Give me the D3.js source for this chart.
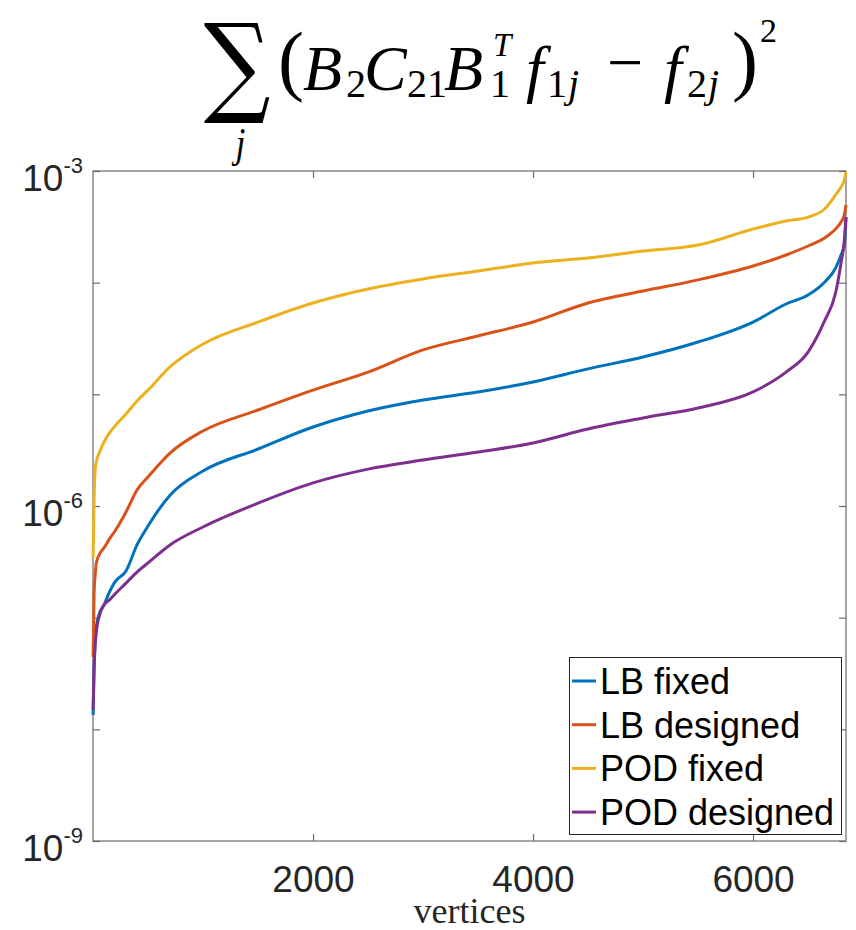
<!DOCTYPE html>
<html><head><meta charset="utf-8">
<script src="https://cdn.jsdelivr.net/npm/d3@7"></script>
<style>body{margin:0;background:#fff;} svg{display:block}</style>
</head><body><svg id="chart" width="856" height="930"></svg>
<script>
// ---- data ----
const vertices = [1,10,20,30,60,100,150,200,300,400,500,700,1000,1500,2000,2500,3000,3500,4000,4500,5000,5500,6000,6300,6500,6650,6750,6800,6830,6845];
const lbFixed = [1.34e-8,3.61e-8,6.31e-8,8.25e-8,1.10e-7,1.30e-7,1.70e-7,2.09e-7,2.62e-7,4.48e-7,6.62e-7,1.25e-6,2.06e-6,3.24e-6,5.10e-6,7.09e-6,8.90e-6,1.05e-5,1.29e-5,1.69e-5,2.16e-5,2.94e-5,4.44e-5,6.44e-5,7.76e-5,1.01e-4,1.35e-4,1.77e-4,2.17e-4,3.87e-4];
const lbDesigned = [4.44e-8,1.66e-7,2.41e-7,3.09e-7,3.72e-7,4.21e-7,5.07e-7,5.97e-7,8.84e-7,1.39e-6,1.82e-6,2.98e-6,4.70e-6,7.24e-6,1.09e-5,1.58e-5,2.50e-5,3.33e-5,4.44e-5,6.58e-5,8.42e-5,1.06e-4,1.41e-4,1.77e-4,2.13e-4,2.51e-4,3.02e-4,3.49e-4,4.04e-4,4.96e-4];
const podFixed = [3.42e-7,1.13e-6,2.10e-6,2.48e-6,3.04e-6,3.74e-6,4.51e-6,5.21e-6,6.67e-6,8.71e-6,1.09e-5,1.76e-5,2.82e-5,4.44e-5,6.58e-5,8.78e-5,1.08e-4,1.27e-4,1.50e-4,1.66e-4,1.92e-4,2.17e-4,3.02e-4,3.57e-4,3.87e-4,4.57e-4,6.10e-4,7.19e-4,8.31e-4,9.79e-4];
const podDesigned = [1.49e-8,3.61e-8,5.69e-8,7.44e-8,1.06e-7,1.30e-7,1.44e-7,1.63e-7,2.04e-7,2.56e-7,3.09e-7,4.48e-7,6.49e-7,1.06e-6,1.61e-6,2.14e-6,2.58e-6,3.04e-6,3.67e-6,4.89e-6,6.14e-6,7.55e-6,1.05e-5,1.58e-5,2.39e-5,4.54e-5,8.08e-5,1.50e-4,2.41e-4,3.87e-4];
const seriesNames = ["LB fixed","LB designed","POD fixed","POD designed"];
const seriesColors = ["#0072BD","#D95319","#EDB120","#7E2F8E"];
const xTicks = [2000,4000,6000];
const yTicks = [1e-9,1e-8,1e-7,1e-6,1e-5,1e-4,1e-3];
const yLabelTicks = [1e-9,1e-6,1e-3];
const yLabelExps = ["-9","-6","-3"];
const xMax = 6845;

// ---- drawing ----
const svg = d3.select("#chart");
const L = 93, R = 846, TOP = 171, B = 841;
const x = d3.scaleLinear().domain([0, xMax]).range([L, R]);
const y = d3.scaleLog().domain([1e-9, 1e-3]).range([B, TOP]);
const axisCol = "#6a6a6a", textCol = "#262626";

// axes box
svg.append("rect").attr("x", L).attr("y", TOP).attr("width", R - L).attr("height", B - TOP)
  .attr("fill", "none").attr("stroke", axisCol).attr("stroke-width", 1.2);

function styleAxis(g){
  g.select(".domain").remove();
  g.selectAll(".tick line").attr("stroke", axisCol).attr("stroke-width", 1.2);
}
svg.append("g").attr("transform", `translate(0,${B})`)
  .call(d3.axisBottom(x).tickValues(xTicks).tickSize(-7).tickPadding(25).tickFormat(d3.format("d")))
  .call(styleAxis)
  .call(g => g.selectAll(".tick text").attr("font-family", "'Liberation Sans', Arial, sans-serif")
     .attr("font-size", 37).attr("fill", textCol));
svg.append("g").attr("transform", `translate(0,${TOP})`)
  .call(d3.axisTop(x).tickValues(xTicks).tickSize(-7).tickFormat(""))
  .call(styleAxis);
svg.append("g").attr("transform", `translate(${L},0)`)
  .call(d3.axisLeft(y).tickValues(yTicks).tickSize(-7).tickFormat(""))
  .call(styleAxis);
svg.append("g").attr("transform", `translate(${R},0)`)
  .call(d3.axisRight(y).tickValues(yTicks).tickSize(-7).tickFormat(""))
  .call(styleAxis);

// y tick labels 10^k
yLabelTicks.forEach((v, i) => {
  const t = svg.append("text").attr("x", 83).attr("y", y(v) + 20)
    .attr("text-anchor", "end").attr("font-family", "'Liberation Sans', Arial, sans-serif")
    .attr("fill", textCol);
  t.append("tspan").attr("font-size", 37).text("10");
  t.append("tspan").attr("font-size", 22).attr("dy", -18).text(yLabelExps[i]);
});

// x label
svg.append("text").attr("x", (L + R) / 2).attr("y", 923).attr("text-anchor", "middle")
  .attr("font-family", "'Liberation Serif', 'DejaVu Serif', serif").attr("font-size", 36)
  .attr("fill", textCol).text("vertices");

// lines
const allSeries = [lbFixed, lbDesigned, podFixed, podDesigned];
const line = d3.line().x((d, i) => x(vertices[i])).y(d => y(d)).curve(d3.curveMonotoneX);
allSeries.forEach((s, k) => {
  svg.append("path").datum(s).attr("d", line).attr("fill", "none")
    .attr("stroke", seriesColors[k]).attr("stroke-width", 3)
    .attr("stroke-linejoin", "round").attr("stroke-linecap", "butt");
});

// legend
const lg = svg.append("g");
lg.append("rect").attr("x", 569.5).attr("y", 657.5).attr("width", 272).attr("height", 177)
  .attr("fill", "#fff").attr("stroke", "#262626").attr("stroke-width", 1);
seriesNames.forEach((n, k) => {
  const cy = 681 + k * 43.7;
  lg.append("line").attr("x1", 572).attr("x2", 596).attr("y1", cy).attr("y2", cy)
    .attr("stroke", seriesColors[k]).attr("stroke-width", 3);
  lg.append("text").attr("x", 600).attr("y", cy + 13).attr("font-family", "'Liberation Sans', Arial, sans-serif")
    .attr("font-size", 36).attr("fill", "#000").text(n);
});

// title (math expression): summation sign with index below
const sig = svg.append("text").attr("transform", "translate(237,102) scale(0.85,1)")
  .attr("text-anchor", "middle").attr("fill", "#000");
sig.append("tspan").attr("x", 0).attr("y", 0).attr("font-family", "'DejaVu Serif', serif")
  .attr("font-size", 110).text("\u2211");
sig.append("tspan").attr("x", 4).attr("y", 55).attr("font-family", "'Liberation Serif', serif")
  .attr("font-style", "italic").attr("font-size", 42).text("j");

// rest of the formula as one text with positioned pieces
const ft = svg.append("text").attr("font-family", "'Liberation Serif', 'DejaVu Serif', serif").attr("fill", "#000");
function piece(str, px, py, size, italic) {
  ft.append("tspan").attr("x", px).attr("y", py).attr("font-size", size)
    .attr("font-style", italic ? "italic" : "normal").text(str);
}
piece("(", 278, 86, 78, false);
piece("B", 303, 90, 64, true);
piece("2", 346, 97, 40, false);
piece("C", 364, 90, 64, true);
piece("21", 407, 97, 40, false);
piece("B", 444, 90, 64, true);
piece("T", 493, 56, 33, true);
piece("1", 490, 97, 40, false);
piece("f", 526, 90, 64, true);
piece("1", 547, 97, 40, false);
piece("j", 568, 97, 40, true);
piece("\u2212", 607, 84, 64, false);
piece("f", 664, 90, 64, true);
piece("2", 687, 97, 40, false);
piece("j", 708, 97, 40, true);
piece(")", 732, 86, 78, false);
piece("2", 760, 42, 34, false);
</script>
</body></html>
